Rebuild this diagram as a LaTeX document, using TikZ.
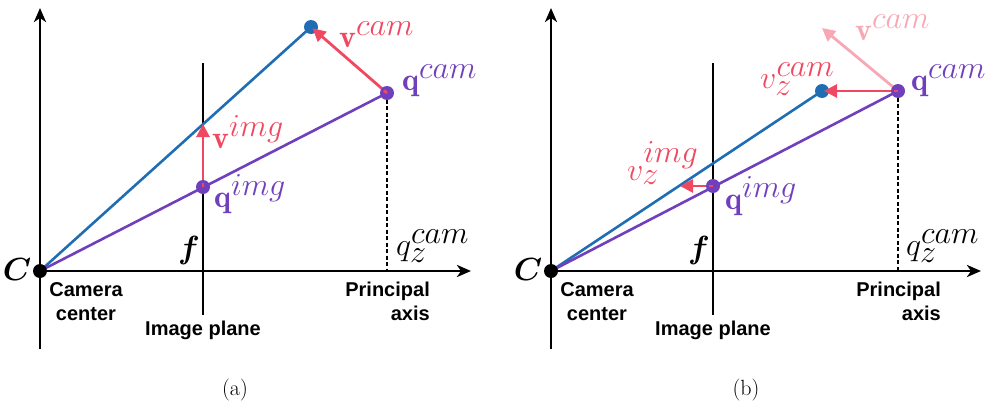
\RequirePackage{fix-cm}
\documentclass[tikz,border=0pt]{standalone}
\usepackage{fontspec}
\usepackage{bm}
\newfontfamily\lblfont{Liberation Sans}
\usetikzlibrary{arrows.meta,calc}
\definecolor{rayblue}{RGB}{31,110,180}
\definecolor{raypurple}{RGB}{112,64,188}
\definecolor{vecred}{RGB}{240,72,96}
\definecolor{vecpink}{RGB}{248,168,180}
\tikzset{
  axisline/.style={line width=2.6pt,-{Stealth[length=14pt,width=12pt,inset=4pt]}},
  planeline/.style={line width=1.6pt},
  dashline/.style={line width=1.5pt,dash pattern=on 4pt off 2.5pt},
  bluerayline/.style={line width=2.6pt,rayblue},
  purplerayline/.style={line width=2.6pt,raypurple},
  redvec/.style={line width=2.8pt,vecred,-{Triangle[length=13pt,width=13pt]}},
  pinkvec/.style={line width=2.8pt,vecpink,-{Triangle[length=13pt,width=13pt]}},
  dotc/.style={circle,fill,inner sep=0pt,minimum size=14pt},
  mathlbl/.style={inner sep=0pt,font=\fontsize{32}{38}\selectfont},
  txtlbl/.style={inner sep=0pt,font=\lblfont\bfseries\fontsize{20}{24}\selectfont},
  caplbl/.style={inner sep=0pt,font=\fontsize{22}{26}\selectfont},
}
\begin{document}
\begin{tikzpicture}[x=1pt,y=-1pt]
\useasboundingbox (0,0) rectangle (989,402);
% ================= panel (a) =================
\coordinate (aC) at (40,271);
\coordinate (aYb) at (40,349);
\coordinate (aYt) at (40,8);
\coordinate (aXt) at (471,271);
\coordinate (aIt) at (203,63);
\coordinate (aIb) at (203,315);
\coordinate (aQc) at (387,93);
\coordinate (aQz) at (387,271);
\coordinate (aP) at (311,27);
\coordinate (aQi) at (203,187);
\coordinate (aVi) at (203,124);
\draw[axisline] (aYb) -- (aYt);
\draw[axisline] (aC) -- (aXt);
\draw[planeline] (aIt) -- (aIb);
\draw[dashline] (aQc) -- (aQz);
\draw[bluerayline] (aC) -- (aP);
\draw[purplerayline] (aC) -- (aQc);
\node[dotc,rayblue] (aPd) at (aP) {};
\node[dotc,black] (aCd) at (aC) {};
\draw[redvec,shorten >=2pt] (aQc) -- (aP);
\draw[redvec] (aQi) -- (aVi);
\node[dotc,raypurple] (aQcd) at (aQc) {};
\node[dotc,raypurple] (aQid) at (aQi) {};
\draw[redvec,-] (aQc) -- ($(aQc)!4pt!(aP)$);
\draw[redvec,-] (aQi) -- ($(aQi)!4pt!(aVi)$);
\node[mathlbl,text=vecred,anchor=base west] (aLvc) at (339,47) {$\mathbf{v}^{\textstyle cam}$};
\node[mathlbl,text=raypurple,anchor=base west] (aLqc) at (402,90) {$\mathbf{q}^{\textstyle cam}$};
\node[mathlbl,text=vecred,anchor=base west] (aLvi) at (212,148) {$\mathbf{v}^{\textstyle img}$};
\node[mathlbl,text=raypurple,anchor=base west] (aLqi) at (214,207) {$\mathbf{q}^{\textstyle img}$};
\node[mathlbl,anchor=base] (aLf) at (189,258) {$\bm{f}$};
\node[mathlbl,anchor=base] (aLC) at (17,280) {$\bm{C}$};
\node[mathlbl,anchor=base west] (aLqz) at (396,255) {$q_{\textstyle z}^{\textstyle cam}$};
\node[txtlbl,align=center,anchor=north] (aLcam) at (86,282) {Camera\\center};
\node[txtlbl,anchor=base] (aLimg) at (203,335) {Image plane};
\node[txtlbl,align=right,anchor=north east] (aLpa) at (430,282) {Principal\\axis};
\node[caplbl] (aCap) at (235,390) {(a)};
% ================= panel (b) =================
\coordinate (bC) at (551,271);
\coordinate (bYb) at (551,349);
\coordinate (bYt) at (551,8);
\coordinate (bXt) at (981,271);
\coordinate (bIt) at (713,63);
\coordinate (bIb) at (713,315);
\coordinate (bQc) at (898,91);
\coordinate (bQz) at (898,271);
\coordinate (bP) at (822,91);
\coordinate (bQi) at (713,186);
\coordinate (bVi) at (680,186);
\coordinate (bVc) at (822,28);
\draw[axisline] (bYb) -- (bYt);
\draw[axisline] (bC) -- (bXt);
\draw[planeline] (bIt) -- (bIb);
\draw[dashline] (bQc) -- (bQz);
\draw[pinkvec] (bQc) -- (bVc);
\draw[bluerayline] (bC) -- (bP);
\draw[purplerayline] (bC) -- (bQc);
\node[dotc,rayblue] (bPd) at (bP) {};
\node[dotc,black] (bCd) at (bC) {};
\draw[redvec,shorten >=2pt] (bQc) -- (bP);
\draw[redvec] (bQi) -- (bVi);
\node[dotc,raypurple] (bQcd) at (bQc) {};
\node[dotc,raypurple] (bQid) at (bQi) {};
\draw[redvec,-] (bQc) -- ($(bQc)!4pt!(bP)$);
\draw[redvec,-] (bQi) -- ($(bQi)!4pt!(bVi)$);
\node[mathlbl,text=vecpink,anchor=base west] (bLvc) at (855,40) {$\mathbf{v}^{\textstyle cam}$};
\node[mathlbl,text=vecred,anchor=base west] (bLvzc) at (760,88) {$v_{\textstyle z}^{\textstyle cam}$};
\node[mathlbl,text=raypurple,anchor=base west] (bLqc) at (911,90) {$\mathbf{q}^{\textstyle cam}$};
\node[mathlbl,text=vecred,anchor=base west] (bLvzi) at (627,180) {$v_{\textstyle z}^{\textstyle img}$};
\node[mathlbl,text=raypurple,anchor=base west] (bLqi) at (725,209) {$\mathbf{q}^{\textstyle img}$};
\node[mathlbl,anchor=base] (bLf) at (699,258) {$\bm{f}$};
\node[mathlbl,anchor=base] (bLC) at (528,280) {$\bm{C}$};
\node[mathlbl,anchor=base west] (bLqz) at (906,255) {$q_{\textstyle z}^{\textstyle cam}$};
\node[txtlbl,align=center,anchor=north] (bLcam) at (597,282) {Camera\\center};
\node[txtlbl,anchor=base] (bLimg) at (713,335) {Image plane};
\node[txtlbl,align=right,anchor=north east] (bLpa) at (941,282) {Principal\\axis};
\node[caplbl] (bCap) at (746,390) {(b)};
\end{tikzpicture}
\end{document}
